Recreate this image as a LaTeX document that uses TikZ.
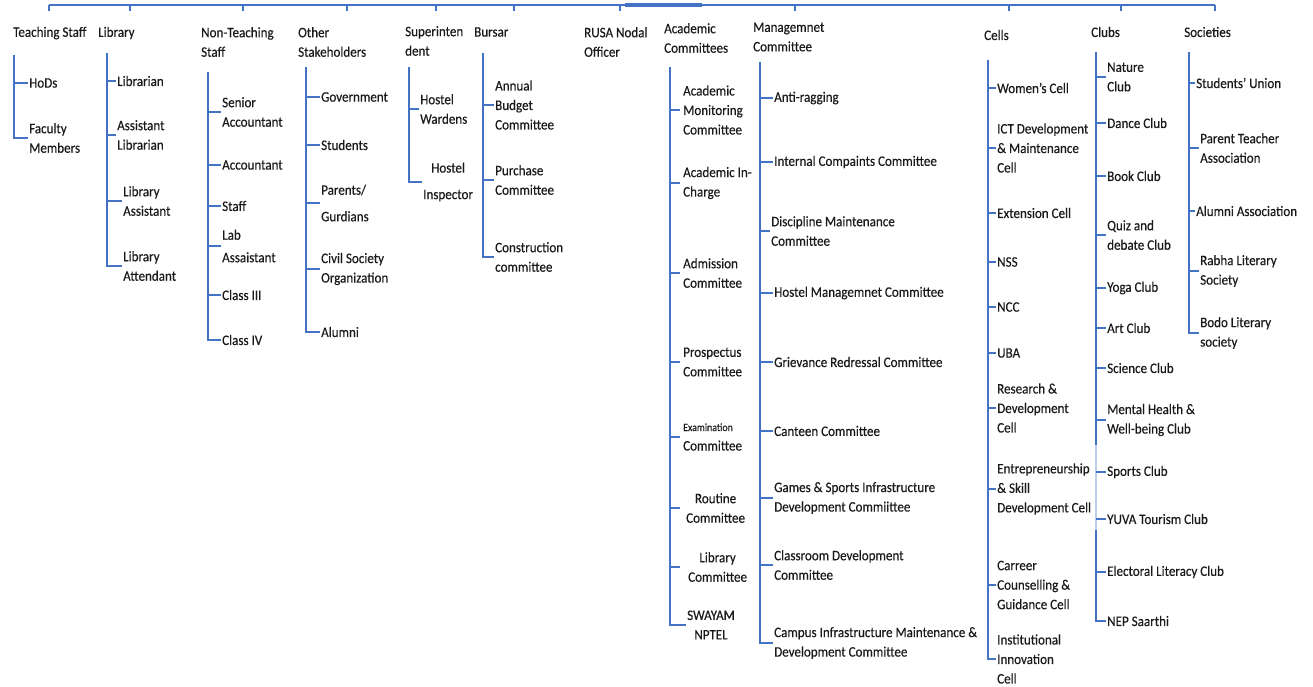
\documentclass[tikz,border=0pt]{standalone}
\usepackage{fontspec}
\setmainfont{Carlito}[FakeStretch=0.9,FakeBold=0.35]
\definecolor{lnc}{HTML}{4472C4}
\definecolor{txc}{HTML}{1A1A1A}
\newcommand\dfont{\fontsize{14.5}{19.5}\selectfont}
\tikzset{
  lab/.style={anchor=west, align=left, inner sep=0pt, inner xsep=1pt, font=\dfont, text=txc},
  clab/.style={lab, align=center},
  wire/.style={draw=lnc, line width=1.5pt},
  faint/.style={draw=lnc!35, line width=1.2pt},
}
\begin{document}
\begin{tikzpicture}[x=1pt,y=-1pt]
\useasboundingbox (0,0) rectangle (1313,686);
% top bar
\coordinate (barL) at (49,5);
\coordinate (barR) at (1215,5);
\draw[wire] (barL) -- (barR);
\coordinate (thA) at (625,5); \coordinate (thB) at (702,5);
\draw[draw=lnc, line width=3.5pt] (thA) -- (thB);
\foreach \t in {49,130,243,347,436,514,620,795,1009,1121,1215}{
  \draw[wire] (\t,5) -- (\t,11);
}
% headers
\node[lab] (ts) at (12,33) {Teaching Staff};
\node[lab] (lib) at (97,33) {Library};
\node[lab] (nts) at (200,42) {Non-Teaching\\Staff};
\node[lab] (os) at (297,42) {Other\\Stakeholders};
\node[lab] (sup) at (404,41) {Superinten\\dent};
\node[lab] (bur) at (473,32) {Bursar};
\node[lab] (rusa) at (583,42) {RUSA Nodal\\Officer};
\node[lab] (ac) at (663,38) {Academic\\Committees};
\node[lab] (mc) at (752,37) {Managemnet\\Committee};
\node[lab] (cells) at (983,35) {Cells};
\node[lab] (clubs) at (1090,32) {Clubs};
\node[lab] (soc) at (1183,32) {Societies};
% trunk tops
\coordinate (tsT) at (14,55);
\coordinate (libT) at (107,53);
\coordinate (ntsT) at (208,72);
\coordinate (osT) at (306,67);
\coordinate (supT) at (409,67);
\coordinate (burT) at (483,53);
\coordinate (acT) at (670,67);
\coordinate (mcT) at (760,62);
\coordinate (cellsT) at (988,60);
\coordinate (clubsT) at (1096,52);
\coordinate (socT) at (1189,52);
% Teaching staff
\node[lab] (ts1) at (28,83) {HoDs};
\node[lab] (ts2) at (28,138) {Faculty\\Members};
% Library
\node[lab] (lib1) at (116,81) {Librarian};
\node[lab] (lib2) at (116,135) {Assistant\\Librarian};
\node[lab] (lib3) at (122,201) {Library\\Assistant};
\node[lab] (lib4) at (122,266) {Library\\Attendant};
% Non-teaching
\node[lab] (nts1) at (221,112) {Senior\\Accountant};
\node[lab] (nts2) at (221,165) {Accountant};
\node[lab] (nts3) at (221,206) {Staff};
\node[lab] (nts4) at (221,246) {Lab\\[3pt]Assaistant};
\node[lab] (nts5) at (221,295) {Class III};
\node[lab] (nts6) at (221,340) {Class IV};
% Other stakeholders
\node[lab] (os1) at (320,97) {Government};
\node[lab] (os2) at (320,145) {Students};
\node[lab] (os3) at (320,203) {Parents/\\[7pt]Gurdians};
\node[lab] (os4) at (320,269) {Civil Society\\Organization};
\node[lab] (os5) at (320,332) {Alumni};
% Superintendent
\node[lab] (sup1) at (419,109) {Hostel\\Wardens};
\node[clab] (sup2) at (422,182) {Hostel\\[7pt]Inspector};
% Bursar
\node[lab] (bur1) at (494,105) {Annual\\Budget\\Committee};
\node[lab] (bur2) at (494,180) {Purchase\\Committee};
\node[lab] (bur3) at (494,257) {Construction\\committee};
% Academic committees
\node[lab] (ac1) at (682,110) {Academic\\Monitoring\\Committee};
\node[lab] (ac2) at (682,183) {Academic In-\\Charge};
\node[lab] (ac3) at (682,273) {Admission\\Committee};
\node[lab] (ac4) at (682,362) {Prospectus\\Committee};
\node[lab] (ac5) at (682,437) {{\fontsize{11}{12}\selectfont Examination}\\Committee};
\node[clab] (ac6) at (685,508) {Routine\\Committee};
\node[clab] (ac7) at (687,567) {Library\\Committee};
\node[clab] (ac8) at (686,625) {SWAYAM\\NPTEL};
% Management committee
\node[lab] (mc1) at (773,98) {Anti-ragging};
\node[lab] (mc2) at (773,162) {Internal Compaints Committee};
\node[lab] (mc3) at (770,231) {Discipline Maintenance\\Committee};
\node[lab] (mc4) at (773,293) {Hostel Managemnet Committee};
\node[lab] (mc5) at (773,362) {Grievance Redressal Committee};
\node[lab] (mc6) at (773,431) {Canteen Committee};
\node[lab] (mc7) at (773,498) {Games \& Sports Infrastructure\\Development Commiittee};
\node[lab] (mc8) at (773,565) {Classroom Development\\Committee};
\node[lab] (mc9) at (773,643) {Campus Infrastructure Maintenance \&\\Development Committee};
% Cells
\node[lab] (c1) at (996,88) {Women's Cell};
\node[lab] (c2) at (996,148) {ICT Development\\\& Maintenance\\Cell};
\node[lab] (c3) at (996,213) {Extension Cell};
\node[lab] (c4) at (996,262) {NSS};
\node[lab] (c5) at (996,307) {NCC};
\node[lab] (c6) at (996,353) {UBA};
\node[lab] (c7) at (996,408) {Research \&\\Development\\Cell};
\node[lab] (c8) at (996,489) {Entrepreneurship\\\& Skill\\Development Cell};
\node[lab] (c9) at (996,585) {Carreer\\Counselling \&\\Guidance Cell};
\node[lab] (c10) at (996,659) {Institutional\\Innovation\\Cell};
% Clubs
\node[lab] (k1) at (1106,77) {Nature\\Club};
\node[lab] (k2) at (1106,123) {Dance Club};
\node[lab] (k3) at (1106,176) {Book Club};
\node[lab] (k4) at (1106,235) {Quiz and\\debate Club};
\node[lab] (k5) at (1106,288) {Yoga Club};
\node[lab] (k6) at (1106,328) {Art Club};
\node[lab] (k7) at (1106,368) {Science Club};
\node[lab] (k8) at (1106,420) {Mental Health \&\\Well-being Club};
\node[lab] (k9) at (1106,472) {Sports Club};
\node[lab] (k10) at (1106,519) {YUVA Tourism Club};
\node[lab] (k11) at (1106,572) {Electoral Literacy Club};
\node[lab] (k12) at (1106,621) {NEP Saarthi};
% Societies
\node[lab] (s1) at (1195,83) {Students' Union};
\node[lab] (s2) at (1199,148) {Parent Teacher\\Association};
\node[lab] (s3) at (1195,211) {Alumni Association};
\node[lab] (s4) at (1199,271) {Rabha Literary\\Society};
\node[lab] (s5) at (1199,333) {Bodo Literary\\society};
% trunks
\draw[wire] (tsT) |- (ts2.west);
\draw[wire] (libT) |- (lib4.west);
\draw[wire] (ntsT) |- (nts6.west);
\draw[wire] (osT) |- (os5.west);
\draw[wire] (supT) |- (sup2.west);
\draw[wire] (burT) |- (bur3.west);
\draw[wire] (acT) |- (ac8.west);
\draw[wire] (mcT) |- (mc9.west);
\draw[wire] (cellsT) |- (c10.west);
\coordinate (gapA) at (1096,445);
\coordinate (gapB) at (1096,530);
\draw[wire] (clubsT) -- (gapA);
\draw[faint] (gapA) -- (gapB);
\draw[wire] (gapB) |- (k12.west);
\draw[wire] (socT) |- (s5.west);
% branches
\foreach \n in {ts1}{\draw[wire] (tsT |- \n.west) -- (\n.west);}
\foreach \n in {lib1,lib2,lib3}{\draw[wire] (libT |- \n.west) -- (\n.west);}
\foreach \n in {nts1,nts2,nts3,nts4,nts5}{\draw[wire] (ntsT |- \n.west) -- (\n.west);}
\foreach \n in {os1,os2,os3,os4}{\draw[wire] (osT |- \n.west) -- (\n.west);}
\foreach \n in {sup1}{\draw[wire] (supT |- \n.west) -- (\n.west);}
\foreach \n in {bur1,bur2}{\draw[wire] (burT |- \n.west) -- (\n.west);}
\foreach \n in {ac1,ac2,ac3,ac4,ac5,ac6,ac7}{\draw[wire] (acT |- \n.west) -- ++(10,0);}
\foreach \n in {mc1,mc2,mc3,mc4,mc5,mc6,mc7,mc8}{\draw[wire] (mcT |- \n.west) -- (\n.west);}
\foreach \n in {c1,c2,c3,c4,c5,c6,c7,c8,c9}{\draw[wire] (cellsT |- \n.west) -- (\n.west);}
\foreach \n in {k1,k2,k3,k4,k5,k6,k7,k8,k9,k10,k11}{\draw[wire] (clubsT |- \n.west) -- (\n.west);}
\foreach \n in {s1,s2,s3,s4}{\draw[wire] (socT |- \n.west) -- (\n.west);}
\end{tikzpicture}
\end{document}
